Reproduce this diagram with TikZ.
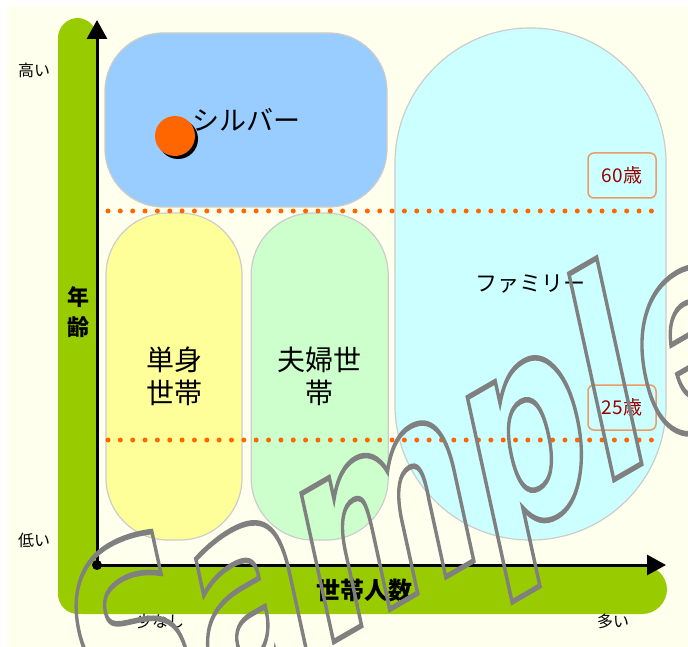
\documentclass[tikz,border=0pt]{standalone}
\usepackage{fontspec}
\setmainfont{Noto Sans CJK JP}
\newfontfamily\wmfont{DejaVu Sans}
\usetikzlibrary{arrows.meta,positioning}
\definecolor{bgcream}{HTML}{FFFFEE}
\definecolor{axisgreen}{HTML}{99CC00}
\definecolor{silverblue}{HTML}{99CCFF}
\definecolor{singleyellow}{HTML}{FFFF99}
\definecolor{couplegreen}{HTML}{CCFFCC}
\definecolor{familycyan}{HTML}{CCFFFF}
\definecolor{dotorange}{HTML}{FF6600}
\definecolor{ageorange}{HTML}{EE9966}
\definecolor{agered}{HTML}{990000}
\definecolor{wmgray}{HTML}{808080}

\begin{document}
\begin{tikzpicture}[x=1pt, y=-1pt,
  cell/.style={draw=gray!40, line width=1.2, align=center, inner sep=0pt},
  agebox/.style={draw=ageorange, line width=1.5, rounded corners=6,
                 minimum width=68, minimum height=45, text=agered,
                 font=\fontsize{19}{19}\selectfont},
  scalelbl/.style={font=\fontsize{16}{16}\selectfont},
  axis/.style={line width=3, -{Triangle[length=19pt,width=20pt]}},
  dotrow/.style={draw=dotorange, line width=5, line cap=round,
                 dash pattern=on 0pt off 12.35pt},
  wm/.style={text=wmgray, transform shape, anchor=base west, inner sep=0pt,
             font=\wmfont\bfseries\fontsize{280}{280}\selectfont}
]
\fill[white] (0,0) rectangle (688,647);
\fill[bgcream] (7,7) rectangle (688,647);
\useasboundingbox (0,0) rectangle (688,647);
% green band behind the axes
\fill[axisgreen, rounded corners=20] (58,18) rectangle (97,614);
\fill[axisgreen, rounded corners=25] (58,565) rectangle (667,614);
% household groups
\node[cell, fill=silverblue, minimum width=282, minimum height=174,
      rounded corners=58, font=\fontsize{27}{27}\selectfont]
  (silver) at (246,120) {シルバー};
\node[cell, fill=familycyan, minimum width=271, minimum height=512,
      rounded corners=135, font=\fontsize{22}{22}\selectfont]
  (family) at (530.5,284) {ファミリー};
\node[cell, fill=singleyellow, minimum width=136, minimum height=327,
      rounded corners=62, font=\fontsize{28}{33}\selectfont]
  (single) at (174,376.5) {単身\\世帯};
\node[cell, fill=couplegreen, minimum width=137, minimum height=327,
      rounded corners=62, font=\fontsize{28}{33}\selectfont,
      right=8pt of single] (couple) {夫婦世\\帯};
\fill[black] (178,139) circle[radius=20pt];
\node[circle, fill=dotorange, minimum size=40, inner sep=0pt]
  (silverdot) at (175,136) {};
% age borders
\draw[dotrow] (108,211) -- (653,211);
\draw[dotrow] (108,440) -- (653,440);
\node[agebox] (age60) at (622,175.5) {60歳};
\node[agebox] (age25) at (622,407.5) {25歳};
% axes
\coordinate (origin) at (97,565);
\coordinate (ytop) at (97,20);
\coordinate (xend) at (666,565);
\draw[axis] (origin) -- (ytop);
\draw[axis] (origin) -- (xend);
\fill (origin) circle[radius=5pt];
\node[scalelbl] (high) at (34,70) {高い};
\node[scalelbl] (low) at (34,540) {低い};
\node[scalelbl] (few) at (160,621) {少なし};
\node[scalelbl] (many) at (613,621) {多い};
\node[font=\bfseries\fontsize{22}{30}\selectfont, align=center]
  (agetitle) at (78,312) {年\\齢};
\node[font=\bfseries\fontsize{24}{24}\selectfont]
  (hhtitle) at (364,590) {世帯人数};
% watermark
\begin{scope}
  \clip (0,0) rectangle (688,647);
  \begin{scope}[shift={(98,778)}, cm={0.569,0.329,-0.211,0.967,(0,0)}]
    \node[wm] (wmark) at (0,0)
      {\special{pdf:literal direct 1 Tr 5.5 w}Sample\special{pdf:literal direct 0 Tr}};
  \end{scope}
\end{scope}
\end{tikzpicture}
\end{document}
